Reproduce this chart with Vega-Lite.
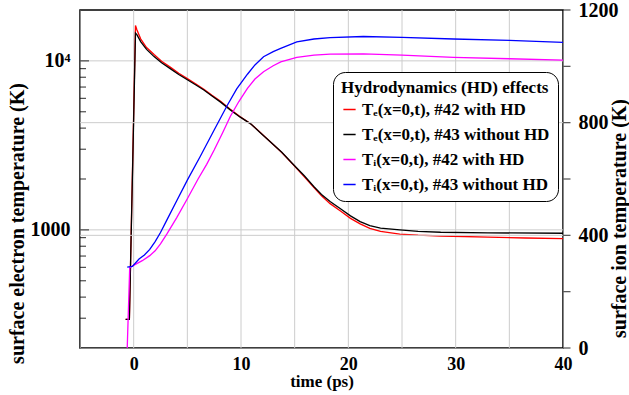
{
  "$schema": "https://vega.github.io/schema/vega-lite/v6.json",
  "width": 483,
  "height": 338,
  "autosize": {"type": "none"},
  "padding": {"left": 80, "top": 10, "right": 66, "bottom": 47},
  "background": "white",
  "config": {
    "font": "Liberation Serif",
    "view": {"stroke": "black", "strokeWidth": 1.5},
    "axis": {
      "labelFont": "Liberation Serif",
      "labelFontWeight": "bold",
      "labelColor": "black",
      "titleFont": "Liberation Serif",
      "titleFontWeight": "bold",
      "titleColor": "black",
      "labelOverlap": false,
      "labelFlush": false,
      "grid": false,
      "tickOpacity": 0
    }
  },
  "datasets": {
    "curves": [
      {"s": "e42", "t": -0.75, "v": 295}, {"s": "e42", "t": -0.4, "v": 295}, {"s": "e42", "t": 0.17, "v": 16200}, {"s": "e42", "t": 0.3, "v": 15300}, {"s": "e42", "t": 0.65, "v": 13500}, {"s": "e42", "t": 1.2, "v": 12000}, {"s": "e42", "t": 1.9, "v": 10900}, {"s": "e42", "t": 2.6, "v": 9950}, {"s": "e42", "t": 3.44, "v": 9150}, {"s": "e42", "t": 4.2, "v": 8450}, {"s": "e42", "t": 5, "v": 7850}, {"s": "e42", "t": 5.8, "v": 7300}, {"s": "e42", "t": 6.54, "v": 6800}, {"s": "e42", "t": 7.3, "v": 6250}, {"s": "e42", "t": 8.1, "v": 5770}, {"s": "e42", "t": 9, "v": 5170}, {"s": "e42", "t": 9.9, "v": 4680}, {"s": "e42", "t": 10.9, "v": 4250}, {"s": "e42", "t": 11.8, "v": 3770}, {"s": "e42", "t": 12.7, "v": 3330}, {"s": "e42", "t": 13.8, "v": 2870}, {"s": "e42", "t": 14.9, "v": 2420}, {"s": "e42", "t": 15.9, "v": 2060}, {"s": "e42", "t": 16.8, "v": 1780}, {"s": "e42", "t": 17.5, "v": 1590}, {"s": "e42", "t": 18.3, "v": 1430}, {"s": "e42", "t": 19.3, "v": 1290}, {"s": "e42", "t": 20.2, "v": 1170}, {"s": "e42", "t": 21.1, "v": 1085}, {"s": "e42", "t": 22, "v": 1020}, {"s": "e42", "t": 23, "v": 980}, {"s": "e42", "t": 24.8, "v": 945}, {"s": "e42", "t": 26.5, "v": 930}, {"s": "e42", "t": 28.6, "v": 920}, {"s": "e42", "t": 33, "v": 905}, {"s": "e42", "t": 36.5, "v": 895}, {"s": "e42", "t": 40, "v": 888},
      {"s": "e43", "t": -0.75, "v": 295}, {"s": "e43", "t": -0.4, "v": 295}, {"s": "e43", "t": 0.17, "v": 14600}, {"s": "e43", "t": 0.3, "v": 14300}, {"s": "e43", "t": 0.65, "v": 13000}, {"s": "e43", "t": 1.2, "v": 11700}, {"s": "e43", "t": 1.9, "v": 10600}, {"s": "e43", "t": 2.6, "v": 9750}, {"s": "e43", "t": 3.44, "v": 8970}, {"s": "e43", "t": 4.2, "v": 8300}, {"s": "e43", "t": 5, "v": 7730}, {"s": "e43", "t": 5.8, "v": 7200}, {"s": "e43", "t": 6.54, "v": 6730}, {"s": "e43", "t": 7.3, "v": 6200}, {"s": "e43", "t": 8.1, "v": 5700}, {"s": "e43", "t": 9, "v": 5130}, {"s": "e43", "t": 9.9, "v": 4660}, {"s": "e43", "t": 10.9, "v": 4240}, {"s": "e43", "t": 11.8, "v": 3760}, {"s": "e43", "t": 12.7, "v": 3330}, {"s": "e43", "t": 13.8, "v": 2880}, {"s": "e43", "t": 14.9, "v": 2430}, {"s": "e43", "t": 15.9, "v": 2090}, {"s": "e43", "t": 16.8, "v": 1800}, {"s": "e43", "t": 17.5, "v": 1620}, {"s": "e43", "t": 18.3, "v": 1470}, {"s": "e43", "t": 19.3, "v": 1330}, {"s": "e43", "t": 20.2, "v": 1210}, {"s": "e43", "t": 21.1, "v": 1120}, {"s": "e43", "t": 22, "v": 1060}, {"s": "e43", "t": 23, "v": 1025}, {"s": "e43", "t": 24.8, "v": 1000}, {"s": "e43", "t": 26.5, "v": 980}, {"s": "e43", "t": 28.6, "v": 968}, {"s": "e43", "t": 33, "v": 960}, {"s": "e43", "t": 40, "v": 955},
      {"s": "i42", "t": -0.6, "v": 0}, {"s": "i42", "t": -0.37, "v": 285}, {"s": "i42", "t": 0.03, "v": 294}, {"s": "i42", "t": 0.8, "v": 310}, {"s": "i42", "t": 1.5, "v": 328}, {"s": "i42", "t": 2, "v": 345}, {"s": "i42", "t": 2.5, "v": 370}, {"s": "i42", "t": 3.1, "v": 405}, {"s": "i42", "t": 4, "v": 462}, {"s": "i42", "t": 5, "v": 530}, {"s": "i42", "t": 6, "v": 600}, {"s": "i42", "t": 6.8, "v": 652}, {"s": "i42", "t": 7.5, "v": 703}, {"s": "i42", "t": 8.3, "v": 765}, {"s": "i42", "t": 9, "v": 822}, {"s": "i42", "t": 9.8, "v": 875}, {"s": "i42", "t": 10.6, "v": 922}, {"s": "i42", "t": 11.3, "v": 955}, {"s": "i42", "t": 12.1, "v": 981}, {"s": "i42", "t": 13, "v": 1002}, {"s": "i42", "t": 13.7, "v": 1016}, {"s": "i42", "t": 15.2, "v": 1032}, {"s": "i42", "t": 16.8, "v": 1040}, {"s": "i42", "t": 18.3, "v": 1043}, {"s": "i42", "t": 21.4, "v": 1044}, {"s": "i42", "t": 25, "v": 1040}, {"s": "i42", "t": 29.8, "v": 1032}, {"s": "i42", "t": 35, "v": 1027}, {"s": "i42", "t": 40, "v": 1022},
      {"s": "i43", "t": -0.6, "v": 287}, {"s": "i43", "t": -0.12, "v": 290}, {"s": "i43", "t": 0.5, "v": 316}, {"s": "i43", "t": 1, "v": 330}, {"s": "i43", "t": 1.5, "v": 350}, {"s": "i43", "t": 2, "v": 378}, {"s": "i43", "t": 2.5, "v": 410}, {"s": "i43", "t": 3.1, "v": 455}, {"s": "i43", "t": 4, "v": 522}, {"s": "i43", "t": 5, "v": 596}, {"s": "i43", "t": 6.2, "v": 680}, {"s": "i43", "t": 7.5, "v": 774}, {"s": "i43", "t": 8.7, "v": 860}, {"s": "i43", "t": 9.6, "v": 920}, {"s": "i43", "t": 10.6, "v": 972}, {"s": "i43", "t": 11.3, "v": 1005}, {"s": "i43", "t": 12.1, "v": 1034}, {"s": "i43", "t": 13, "v": 1052}, {"s": "i43", "t": 13.7, "v": 1064}, {"s": "i43", "t": 15.2, "v": 1087}, {"s": "i43", "t": 16.8, "v": 1097}, {"s": "i43", "t": 18.3, "v": 1102}, {"s": "i43", "t": 21.4, "v": 1106}, {"s": "i43", "t": 25, "v": 1103}, {"s": "i43", "t": 29.8, "v": 1097}, {"s": "i43", "t": 35, "v": 1092}, {"s": "i43", "t": 40, "v": 1085}
    ],
    "xgrid": [{"t": 0}, {"t": 5}, {"t": 10}, {"t": 15}, {"t": 20}, {"t": 25}, {"t": 30}, {"t": 35}],
    "egrid": [{"v": 1000}, {"v": 10000}],
    "igrid": [{"v": 400}, {"v": 800}],
    "eticks": [
      {"v": 300, "k": "minor"}, {"v": 400, "k": "minor"}, {"v": 500, "k": "minor"}, {"v": 600, "k": "minor"}, {"v": 700, "k": "minor"}, {"v": 800, "k": "minor"}, {"v": 900, "k": "minor"}, {"v": 1000, "k": "major"},
      {"v": 2000, "k": "minor"}, {"v": 3000, "k": "minor"}, {"v": 4000, "k": "minor"}, {"v": 5000, "k": "minor"}, {"v": 6000, "k": "minor"}, {"v": 7000, "k": "minor"}, {"v": 8000, "k": "minor"}, {"v": 9000, "k": "minor"}, {"v": 10000, "k": "major"}
    ],
    "iticks": [{"v": 0}, {"v": 200}, {"v": 400}, {"v": 600}, {"v": 800}, {"v": 1000}, {"v": 1200}]
  },
  "layer": [
    {
      "layer": [
        {
          "data": {"name": "xgrid"},
          "mark": {"type": "rule", "color": "#cccccc", "strokeWidth": 1},
          "encoding": {
            "x": {"field": "t", "type": "quantitative", "scale": {"domain": [-5, 40], "nice": false, "zero": false},
              "axis": {"title": "time (ps)", "titleFontSize": 17, "titlePadding": 0, "labelFontSize": 18, "labelPadding": 11, "values": [-5, 0, 5, 10, 15, 20, 25, 30, 35, 40], "labelExpr": "datum.value >= 0 && datum.value % 10 == 0 ? format(datum.value, 'd') : ''", "tickSize": -4}}
          }
        },
        {
          "data": {"name": "egrid"},
          "mark": {"type": "rule", "color": "#cccccc", "strokeWidth": 1},
          "encoding": {
            "y": {"field": "v", "type": "quantitative", "scale": {"type": "log", "domain": [200, 20000], "nice": false},
              "axis": {"title": "surface electron temperature (K)", "titleFontSize": 20, "titleX": -63, "titleY": 213, "titleAngle": 270, "titleBaseline": "middle", "titleAlign": "center", "labelFontSize": 20, "labelPadding": 16, "values": [1000, 10000], "labelExpr": "datum.value == 1000 ? '1000' : '10⁴'", "tickSize": -6}}
          }
        },
        {
          "data": {"name": "eticks"},
          "mark": {"type": "tick", "orient": "horizontal", "color": "black", "thickness": 1.2, "clip": true},
          "encoding": {
            "x": {"datum": -5, "type": "quantitative", "scale": {"domain": [-5, 40], "nice": false, "zero": false},
              "axis": {"title": "time (ps)", "titleFontSize": 17, "titlePadding": 0, "labelFontSize": 18, "labelPadding": 11, "values": [-5, 0, 5, 10, 15, 20, 25, 30, 35, 40], "labelExpr": "datum.value >= 0 && datum.value % 10 == 0 ? format(datum.value, 'd') : ''", "tickSize": -4}},
            "y": {"field": "v", "type": "quantitative", "scale": {"type": "log", "domain": [200, 20000], "nice": false},
              "axis": {"title": "surface electron temperature (K)", "titleFontSize": 20, "titleX": -63, "titleY": 213, "titleAngle": 270, "titleBaseline": "middle", "titleAlign": "center", "labelFontSize": 20, "labelPadding": 16, "values": [1000, 10000], "labelExpr": "datum.value == 1000 ? '1000' : '10⁴'", "tickSize": -6}},
            "size": {"field": "k", "type": "nominal", "scale": {"domain": ["minor", "major"], "range": [12, 18]}, "legend": null}
          }
        },
        {
          "data": {"name": "curves"},
          "transform": [{"filter": "datum.s == 'e42' || datum.s == 'e43'"}],
          "mark": {"type": "line", "strokeWidth": 1.3, "clip": true},
          "encoding": {
            "x": {"field": "t", "type": "quantitative", "scale": {"domain": [-5, 40], "nice": false, "zero": false},
              "axis": {"title": "time (ps)", "titleFontSize": 17, "titlePadding": 0, "labelFontSize": 18, "labelPadding": 11, "values": [-5, 0, 5, 10, 15, 20, 25, 30, 35, 40], "labelExpr": "datum.value >= 0 && datum.value % 10 == 0 ? format(datum.value, 'd') : ''", "tickSize": -4}},
            "y": {"field": "v", "type": "quantitative", "scale": {"type": "log", "domain": [200, 20000], "nice": false},
              "axis": {"title": "surface electron temperature (K)", "titleFontSize": 20, "titleX": -63, "titleY": 213, "titleAngle": 270, "titleBaseline": "middle", "titleAlign": "center", "labelFontSize": 20, "labelPadding": 16, "values": [1000, 10000], "labelExpr": "datum.value == 1000 ? '1000' : '10⁴'", "tickSize": -6}},
            "color": {
              "field": "s", "type": "nominal",
              "scale": {"domain": ["e42", "e43", "i42", "i43"], "range": ["#ff0000", "#000000", "#ff00ff", "#0000ff"]},
              "legend": {
                "title": "Hydrodynamics (HD) effects", "orient": "none", "legendX": 253, "legendY": 62,
                "labelExpr": "datum.value == 'e42' ? 'Tₑ(x=0,t), #42 with HD' : datum.value == 'e43' ? 'Tₑ(x=0,t), #43 without HD' : datum.value == 'i42' ? 'Tᵢ(x=0,t), #42 with HD' : 'Tᵢ(x=0,t), #43 without HD'",
                "titleFont": "Liberation Serif", "titleFontSize": 17, "titleFontWeight": "bold", "titleColor": "black", "titleLimit": 400, "titlePadding": 4,
                "labelFont": "Liberation Serif", "labelFontSize": 17, "labelFontWeight": "bold", "labelColor": "black", "labelLimit": 400,
                "symbolType": "stroke", "symbolSize": 150, "symbolStrokeWidth": 1.5, "rowPadding": 7, "padding": 8, "cornerRadius": 12, "strokeColor": "black", "fillColor": "white"
              }
            }
          }
        }
      ]
    },
    {
      "layer": [
        {
          "data": {"name": "igrid"},
          "mark": {"type": "rule", "color": "#cccccc", "strokeWidth": 1},
          "encoding": {
            "y": {"field": "v", "type": "quantitative", "scale": {"domain": [0, 1200], "nice": false, "zero": false},
              "axis": {"orient": "right", "title": "surface ion temperature (K)", "titleFontSize": 20, "titleX": 56, "titleY": 208, "titleAngle": 270, "titleBaseline": "middle", "titleAlign": "center", "labelFontSize": 20, "labelPadding": 8, "values": [0, 400, 800, 1200], "format": "d", "tickSize": 7}}
          }
        },
        {
          "data": {"name": "iticks"},
          "mark": {"type": "tick", "orient": "horizontal", "color": "black", "thickness": 1.2, "size": 7, "xOffset": 4},
          "encoding": {
            "x": {"datum": 40, "type": "quantitative", "scale": {"domain": [-5, 40], "nice": false, "zero": false},
              "axis": {"title": "time (ps)", "titleFontSize": 17, "titlePadding": 0, "labelFontSize": 18, "labelPadding": 11, "values": [-5, 0, 5, 10, 15, 20, 25, 30, 35, 40], "labelExpr": "datum.value >= 0 && datum.value % 10 == 0 ? format(datum.value, 'd') : ''", "tickSize": -4}},
            "y": {"field": "v", "type": "quantitative", "scale": {"domain": [0, 1200], "nice": false, "zero": false},
              "axis": {"orient": "right", "title": "surface ion temperature (K)", "titleFontSize": 20, "titleX": 56, "titleY": 208, "titleAngle": 270, "titleBaseline": "middle", "titleAlign": "center", "labelFontSize": 20, "labelPadding": 8, "values": [0, 400, 800, 1200], "format": "d", "tickSize": 7}}
          }
        },
        {
          "data": {"name": "curves"},
          "transform": [{"filter": "datum.s == 'i42' || datum.s == 'i43'"}],
          "mark": {"type": "line", "strokeWidth": 1.3, "clip": true},
          "encoding": {
            "x": {"field": "t", "type": "quantitative", "scale": {"domain": [-5, 40], "nice": false, "zero": false},
              "axis": {"title": "time (ps)", "titleFontSize": 17, "titlePadding": 0, "labelFontSize": 18, "labelPadding": 11, "values": [-5, 0, 5, 10, 15, 20, 25, 30, 35, 40], "labelExpr": "datum.value >= 0 && datum.value % 10 == 0 ? format(datum.value, 'd') : ''", "tickSize": -4}},
            "y": {"field": "v", "type": "quantitative", "scale": {"domain": [0, 1200], "nice": false, "zero": false},
              "axis": {"orient": "right", "title": "surface ion temperature (K)", "titleFontSize": 20, "titleX": 56, "titleY": 208, "titleAngle": 270, "titleBaseline": "middle", "titleAlign": "center", "labelFontSize": 20, "labelPadding": 8, "values": [0, 400, 800, 1200], "format": "d", "tickSize": 7}},
            "color": {
              "field": "s", "type": "nominal",
              "scale": {"domain": ["e42", "e43", "i42", "i43"], "range": ["#ff0000", "#000000", "#ff00ff", "#0000ff"]},
              "legend": {
                "title": "Hydrodynamics (HD) effects", "orient": "none", "legendX": 253, "legendY": 62,
                "labelExpr": "datum.value == 'e42' ? 'Tₑ(x=0,t), #42 with HD' : datum.value == 'e43' ? 'Tₑ(x=0,t), #43 without HD' : datum.value == 'i42' ? 'Tᵢ(x=0,t), #42 with HD' : 'Tᵢ(x=0,t), #43 without HD'",
                "titleFont": "Liberation Serif", "titleFontSize": 17, "titleFontWeight": "bold", "titleColor": "black", "titleLimit": 400, "titlePadding": 4,
                "labelFont": "Liberation Serif", "labelFontSize": 17, "labelFontWeight": "bold", "labelColor": "black", "labelLimit": 400,
                "symbolType": "stroke", "symbolSize": 150, "symbolStrokeWidth": 1.5, "rowPadding": 7, "padding": 8, "cornerRadius": 12, "strokeColor": "black", "fillColor": "white"
              }
            }
          }
        }
      ]
    }
  ],
  "resolve": {"scale": {"y": "independent"}}
}
